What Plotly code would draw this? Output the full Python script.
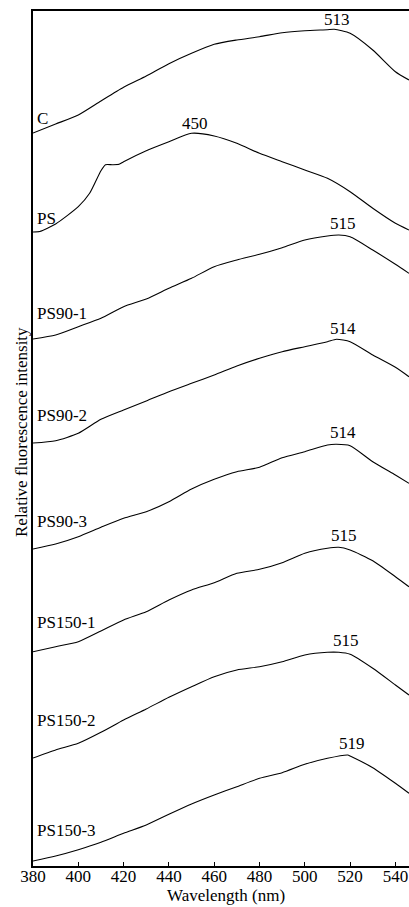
import plotly.graph_objects as go

FONT = "Liberation Serif"

# ---- data (relative fluorescence intensity, arbitrary units, each curve from its own baseline) ----
names = ["C", "PS", "PS90-1", "PS90-2", "PS90-3", "PS150-1", "PS150-2", "PS150-3"]
peak_text = ["513", "450", "515", "514", "514", "515", "515", "519"]

# vertical offsets of the stacked spectra (a.u.)
offsets = [733, 634, 527, 423, 317, 214, 108, 5]

wl_C = [380, 390, 400, 410, 420, 430, 440, 450, 460, 470, 480, 490, 500, 510, 513, 520, 530, 540, 546]
int_C = [0, 9, 18, 32, 45.7, 57, 69.3, 79.7, 88.7, 93, 96.3, 100.3, 102.3, 103.3, 103.7, 99.7, 83, 61.3, 53]

wl_PS = [380, 383, 390, 400, 405, 410, 412, 415, 418, 420, 430, 440, 450, 460, 470, 480, 490, 500, 510, 520, 530, 540, 546]
int_PS = [0, 0.5, 8, 25.3, 38.7, 61.3, 67.3, 67.3, 67.7, 70.3, 81.3, 90.3, 98.7, 96, 88.7, 78.7, 70.3, 62, 53.7, 40.3, 23.7, 8.7, 2]

wl_PS90_1 = [380, 390, 400, 410, 420, 430, 440, 450, 460, 470, 480, 490, 500, 510, 515, 520, 530, 540, 546]
int_PS90_1 = [0, 4, 12.3, 20.7, 32.3, 40, 50.7, 60.7, 72.3, 79, 84.7, 91.3, 99, 103, 104, 102.3, 89, 74.7, 65.7]

wl_PS90_2 = [380, 390, 400, 410, 420, 430, 440, 450, 460, 470, 480, 490, 500, 510, 514, 520, 530, 540, 546]
int_PS90_2 = [0, 2.3, 9.7, 23.7, 33, 42, 51.3, 59.7, 68, 77, 84.7, 91.3, 96.3, 101.3, 103.7, 101.3, 88, 75.7, 66.3]

wl_PS90_3 = [380, 390, 400, 410, 420, 430, 440, 450, 460, 470, 480, 490, 500, 510, 514, 520, 530, 540, 546]
int_PS90_3 = [0, 5, 12.3, 21.7, 30.7, 37.3, 47.3, 60, 69.7, 77.3, 81.7, 91.3, 97.3, 104, 104.7, 103.3, 87.3, 74, 65.7]

wl_PS150_1 = [380, 390, 400, 410, 420, 430, 440, 450, 460, 470, 480, 490, 500, 510, 515, 520, 530, 540, 546]
int_PS150_1 = [0.3, 5.3, 10.3, 21, 32, 40.3, 52, 62, 69.3, 78.7, 82.7, 89.3, 98.7, 103.7, 104.7, 102, 91.3, 75.3, 65.3]

wl_PS150_2 = [380, 390, 400, 410, 420, 430, 440, 450, 460, 470, 480, 490, 500, 510, 515, 520, 530, 540, 546]
int_PS150_2 = [0, 8, 14.7, 25.7, 38, 49, 60.7, 71.3, 81.3, 88, 91.3, 96.3, 103, 105.7, 105.7, 103.7, 89.7, 73, 63]

wl_PS150_3 = [380, 390, 400, 410, 420, 430, 440, 450, 460, 470, 480, 490, 500, 510, 519, 520, 530, 540, 546]
int_PS150_3 = [0, 5, 11.3, 18.7, 27.7, 36, 46.7, 57, 66, 74.3, 82.7, 88.3, 96.7, 102.7, 106, 105, 93.3, 77.7, 67.7]

wavelengths = [wl_C, wl_PS, wl_PS90_1, wl_PS90_2, wl_PS90_3, wl_PS150_1, wl_PS150_2, wl_PS150_3]
intensities = [int_C, int_PS, int_PS90_1, int_PS90_2, int_PS90_3, int_PS150_1, int_PS150_2, int_PS150_3]

# label placement (a.u., relative to curve baseline) and peak-label x
name_label_gap = [15, 14, 26, 28, 28, 29, 38, 31]
peak_label_x = [514, 451.5, 517, 517, 517, 517.5, 518, 520.7]
peak_label_gap = [10, 10, 12, 11, 12, 12, 12, 12]

x_ticks = [380, 400, 420, 440, 460, 480, 500, 520, 540]

fig = go.Figure()
for wl, it, off in zip(wavelengths, intensities, offsets):
    fig.add_trace(go.Scatter(
        x=wl, y=[v + off for v in it], mode="lines",
        line=dict(color="black", width=1.1, shape="spline", smoothing=0.6),
        showlegend=False, hoverinfo="skip"))

ann = []
for name, it, off, gap in zip(names, intensities, offsets, name_label_gap):
    ann.append(dict(x=380, y=it[0] + off + gap, xref="x", yref="y", text=name,
                    showarrow=False, xanchor="left", yanchor="middle", xshift=2,
                    font=dict(family=FONT, size=17, color="black")))
for txt, px, it, off, gap in zip(peak_text, peak_label_x, intensities, offsets, peak_label_gap):
    ann.append(dict(x=px, y=max(it) + off + gap, xref="x", yref="y", text=txt,
                    showarrow=False, xanchor="center", yanchor="middle",
                    font=dict(family=FONT, size=17, color="black")))

ann.append(dict(x=-12 / 376, y=(866 - 432) / 855, xref="paper", yref="paper",
                text="Relative fluorescence intensity", textangle=-90, showarrow=False,
                xanchor="center", yanchor="middle",
                font=dict(family=FONT, size=17, color="black")))
ann.append(dict(x=(226 - 33) / 376, y=(866 - 895) / 855, xref="paper", yref="paper",
                text="Wavelength (nm)", showarrow=False,
                xanchor="center", yanchor="middle",
                font=dict(family=FONT, size=17, color="black")))

fig.update_layout(
    width=409, height=907,
    margin=dict(l=33, r=0, t=11, b=41, pad=0, autoexpand=False),
    paper_bgcolor="white", plot_bgcolor="white",
    annotations=ann,
    xaxis=dict(range=[380, 546], tickvals=x_ticks, ticks="inside", ticklen=4,
               tickcolor="black", tickwidth=1, showline=True, linecolor="black",
               linewidth=1.5, mirror=True, showgrid=False, zeroline=False,
               automargin=False, ticklabelstandoff=-6,
               tickfont=dict(family=FONT, size=17, color="black")),
    yaxis=dict(range=[0, 855], showticklabels=False, ticks="", showline=True,
               linecolor="black", linewidth=1.5, showgrid=False, zeroline=False,
               automargin=False),
)

fig.write_html("out.html",
               config={"displayModeBar": False},
               post_script="document.body.style.margin='0';document.body.style.overflow='hidden';")
